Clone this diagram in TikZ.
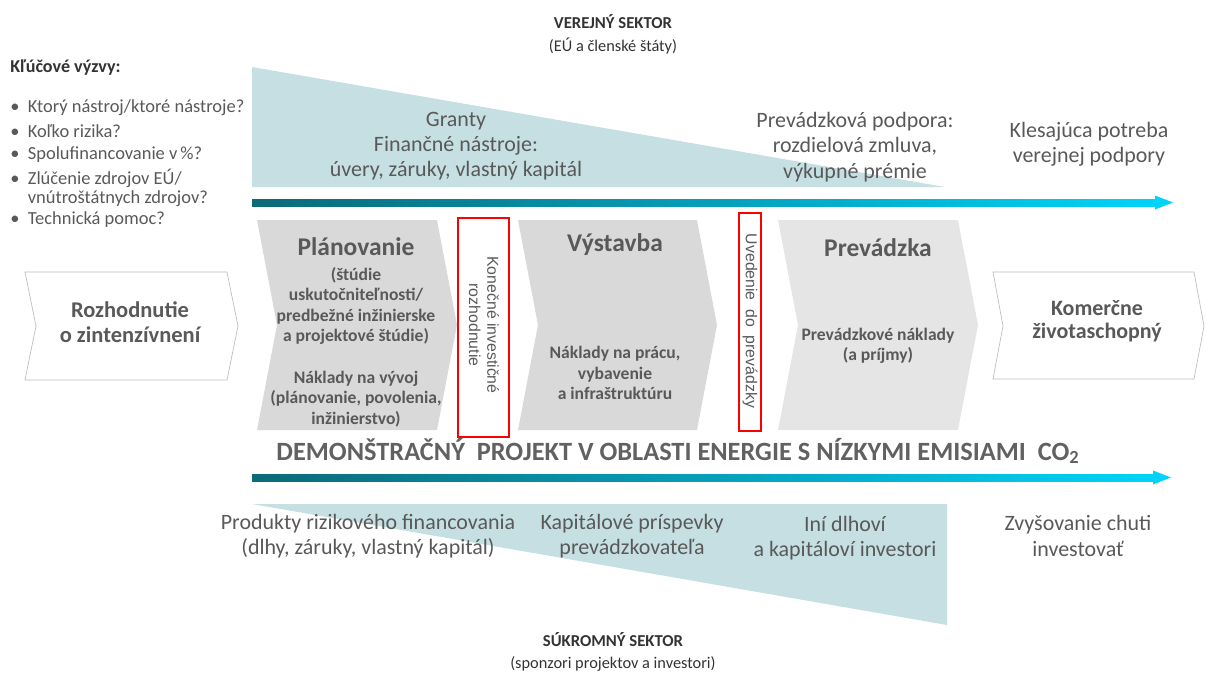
\documentclass[tikz,border=0pt]{standalone}
\usepackage{fontspec}
\setmainfont{Carlito}
\newfontfamily\arialfont{Liberation Sans}
\usetikzlibrary{calc}
\definecolor{txtgray}{HTML}{595959}
\definecolor{teallight}{HTML}{C5DFE3}
\definecolor{chevgray}{HTML}{D9D9D9}
\definecolor{chevlight}{HTML}{E5E5E5}
\definecolor{chevline}{HTML}{BFBFBF}
\definecolor{arrowdark}{HTML}{0B6A78}
\definecolor{arrowlight}{HTML}{00D3F8}
\definecolor{boxred}{HTML}{FF0000}

\begin{document}
\begin{tikzpicture}[x=0.02cm,y=-0.02cm]
\tikzstyle{txt}=[text=txtgray,inner sep=0pt,align=center,font=\fontsize{12.5}{14.4}\selectfont]
\tikzstyle{head}=[txt,font=\fontsize{14.5}{16}\selectfont\bfseries]
\tikzstyle{sub}=[txt,font=\fontsize{10}{11.5}\selectfont\bfseries]
\tikzstyle{sector}=[txt,text=black!80,font=\fontsize{9.5}{11}\selectfont\bfseries]
\tikzstyle{bullet}=[txt,anchor=west,align=left,font=\fontsize{10.5}{10.8}\selectfont]
\tikzstyle{redbox}=[draw=boxred,line width=1.1pt]
\tikzstyle{milestone}=[txt,rotate=-90,font=\arialfont\fontsize{9}{10.5}\selectfont]

\useasboundingbox (0,0) rectangle (1205,674);

% PUBLIC SECTOR WEDGE
\fill[teallight] (252,67) -- (945,187) -- (252,187) -- cycle;
% PRIVATE SECTOR WEDGE
\fill[teallight] (252,504) -- (947,504) -- (947,625) -- cycle;

% ARROWS
\shade[left color=arrowdark,right color=arrowlight] (252,199) rectangle (1156,206);
\fill[arrowlight] (1155,195.5) -- (1173,202.5) -- (1155,209.5) -- cycle;
\shade[left color=arrowdark,right color=arrowlight] (252,474) rectangle (1154,481);
\fill[arrowlight] (1153,470.5) -- (1171,477.5) -- (1153,484.5) -- cycle;

% CHEVRONS
\draw[chevline,fill=white] (25,272) -- (227,272) -- (238,326) -- (227,380) -- (25,380) -- (36,326) -- cycle;
\fill[chevgray] (257,220) -- (437,220) -- (457,325) -- (437,430) -- (257,430) -- (277,325) -- cycle;
\fill[chevgray] (518,220) -- (697,220) -- (717,325) -- (697,430) -- (518,430) -- (538,325) -- cycle;
\fill[chevlight] (778,220) -- (958,220) -- (978,325) -- (958,430) -- (778,430) -- (798,325) -- cycle;
\draw[chevline,fill=white] (993,272) -- (1194,272) -- (1204,326) -- (1194,379) -- (993,379) -- (1003,326) -- cycle;

% MILESTONES
\draw[redbox] (458,218) rectangle (509,437);
\draw[redbox] (739,213) rectangle (761,431);
\node (fid) [milestone] at (484,325) {Konečné investičné\\rozhodnutie};
\node (cod) [milestone] at (750,321) {Uvedenie\ \ do\ \ prevádzky};

% SECTOR TITLES
\node (pub) [sector] at (613,22) {VEREJNÝ SEKTOR};
\node (pubsub) [sector,font=\fontsize{9.3}{11}\selectfont] at (613,46) {(EÚ a členské štáty)};
\node (priv) [sector] at (613,640) {SÚKROMNÝ SEKTOR};
\node (privsub) [sector,font=\fontsize{9.3}{11}\selectfont] at (613,664) {(sponzori projektov a investori)};

% KEY CHALLENGES
\node (keys) [bullet,font=\fontsize{10.3}{11}\selectfont\bfseries,text=black!80] at (10,68) {Kľúčové výzvy:};
\node (k1) [bullet] at (10,108) {•\ \ Ktorý nástroj/ktoré nástroje?};
\node (k2) [bullet] at (10,131) {•\ \ Koľko rizika?};
\node (k3) [bullet] at (10,155) {•\ \ Spolufinancovanie v\,\%?};
\node (k4) [bullet] at (10,187.5) {•\ \ Zlúčenie zdrojov EÚ/\\\phantom{•\ \ }vnútroštátnych zdrojov?};
\node (k5) [bullet] at (10,220) {•\ \ Technická pomoc?};

% PUBLIC SUPPORT TEXTS
\node (grants) [txt] at (456,146) {Granty\\Finančné nástroje:\\úvery, záruky, vlastný kapitál};
\node (opsup) [txt] at (855,147) {Prevádzková podpora:\\rozdielová zmluva,\\výkupné prémie};
\node (decl) [txt] at (1089,144) {Klesajúca potreba\\verejnej podpory};

% STAGES
\node (decide) [head,font=\fontsize{12.8}{14.2}\selectfont\bfseries] at (130,322) {Rozhodnutie\\o zintenzívnení};
\node (plan) [head] at (356,247) {Plánovanie};
\node (plansub) [sub] at (356,306) {(štúdie\\uskutočniteľnosti/\\predbežné inžinierske\\a projektové štúdie)};
\node (plancost) [sub] at (356,399) {Náklady na vývoj\\(plánovanie, povolenia,\\inžinierstvo)};
\node (build) [head] at (615,245) {Výstavba};
\node (buildcost) [sub] at (615,373) {Náklady na prácu,\\vybavenie\\a infraštruktúru};
\node (oper) [head] at (878,248) {Prevádzka};
\node (opercost) [sub] at (878,346) {Prevádzkové náklady\\(a príjmy)};
\node (viable) [head,font=\fontsize{12.5}{13.2}\selectfont\bfseries] at (1097,321) {Komerčne\\životaschopný};

% PROJECT BANNER
\node (demo) [txt,text=black!62,font=\fontsize{15}{18}\selectfont\bfseries] at (678,451) {DEMONŠTRAČNÝ\ \ PROJEKT V OBLASTI ENERGIE S NÍZKYMI EMISIAMI\ \ CO\textsubscript{2}};

% PRIVATE FINANCE TEXTS
\node (risk) [txt] at (368,536) {Produkty rizikového financovania\\(dlhy, záruky, vlastný kapitál)};
\node (equity) [txt] at (632,536) {Kapitálové príspevky\\prevádzkovateľa};
\node (other) [txt] at (845,538) {Iní dlhoví\\a kapitáloví investori};
\node (appetite) [txt] at (1078,536) {Zvyšovanie chuti\\investovať};

\end{tikzpicture}
\end{document}
